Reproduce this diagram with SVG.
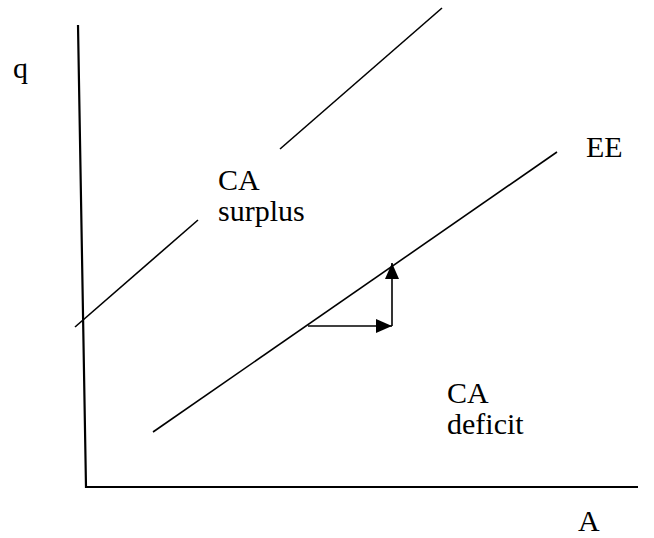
<svg xmlns="http://www.w3.org/2000/svg" width="654" height="538" viewBox="0 0 654 538">
<style>
.ln{stroke:#000;stroke-width:1.6;fill:none;stroke-linecap:butt}
.ax{stroke:#000;stroke-width:2.2;fill:none}
text{font-family:"Times New Roman",Times,"Liberation Serif","DejaVu Serif",serif;font-size:30px;fill:#000}
</style>
<defs>
<marker id="ah" viewBox="0 0 16 14" refX="16" refY="7" markerWidth="16" markerHeight="14" markerUnits="userSpaceOnUse" orient="auto">
<path d="M0,0 L16,7 L0,14 Z" fill="#000"/>
</marker>
</defs>
<g id="axes">
<polyline class="ax" points="78,25 86,487 638,487"/>
</g>
<g id="connectors">
<line class="ln" x1="75" y1="327" x2="198" y2="220"/>
<line class="ln" x1="280" y1="149" x2="442" y2="8"/>
<line class="ln" x1="153" y1="432" x2="557" y2="152"/>
<line class="ln" x1="308" y1="326" x2="392" y2="326" marker-end="url(#ah)"/>
<line class="ln" x1="392" y1="326" x2="392" y2="263" marker-end="url(#ah)"/>
</g>
<g id="label-q"><text x="13" y="78">q</text></g>
<g id="label-surplus"><text x="218" y="190">CA</text><text x="218" y="221">surplus</text></g>
<g id="label-EE"><text x="586" y="157">EE</text></g>
<g id="label-deficit"><text x="447" y="403">CA</text><text x="447" y="434">deficit</text></g>
<g id="label-A"><text x="578" y="531">A</text></g>
</svg>
